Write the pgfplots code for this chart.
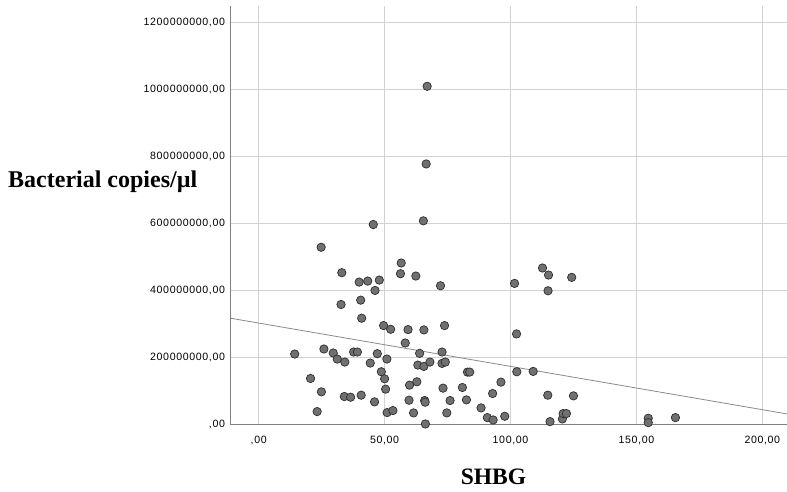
\documentclass[border=0pt]{standalone}
\usepackage{fontspec}
\setmainfont{Liberation Serif}
\newfontfamily\tickfont[LetterSpace=6]{Liberation Sans}
\usepackage{pgfplots}
\pgfplotsset{compat=1.18}
\definecolor{gridc}{HTML}{D2D2D2}
\definecolor{axc}{HTML}{808080}
\definecolor{ptfill}{HTML}{707070}
\definecolor{ptedge}{HTML}{2E2E2E}
\definecolor{regc}{HTML}{8A8A8A}
\begin{document}
\begin{tikzpicture}
\begin{axis}[
  name=ax,
  scale only axis,
  width=556.5pt, height=418.3pt,
  xmin=-11.2, xmax=209.8, ymin=0, ymax=1250,
  axis x line*=bottom, axis y line*=left,
  axis line style={axc, line width=1.3pt, -},
  grid=major,
  major grid style={gridc, line width=0.9pt},
  major tick length=0pt,
  xtick={0,50,100,150,200},
  xticklabels={{,00},{50,00},{100,00},{150,00},{200,00}},
  ytick={0,200,400,600,800,1000,1200},
  yticklabels={{,00},{200000000,00},{400000000,00},{600000000,00},{800000000,00},{1000000000,00},{1200000000,00}},
  /pgf/number format/assume math mode=true,
  xticklabel style={font=\tickfont\fontsize{10.6}{12}\selectfont, anchor=north, yshift=-8pt},
  yticklabel style={font=\tickfont\fontsize{10.6}{12}\selectfont, anchor=east, xshift=-2pt},
  xlabel={SHBG},
  ylabel={Bacterial copies/\textmu l},
  every axis x label/.style={at={(axis description cs:0.4726,-0.143)}, anchor=base, inner sep=0pt, font=\bfseries\fontsize{23.5}{26}\selectfont},
  every axis y label/.style={at={(axis description cs:-0.3998,0.565)}, anchor=base west, inner sep=0pt, font=\bfseries\fontsize{24}{26}\selectfont},
  clip=false,
]
\addplot[regc, line width=0.8pt] coordinates {(-11.2,317) (209.8,31)};
\addplot[only marks, mark=*, mark size=4.2pt, mark options={fill=ptfill, draw=ptedge, line width=0.7pt}] table {
x y
66.9 1010
66.5 778
65.4 608
45.5 597
24.8 529
33.0 453
39.9 425
43.3 428
47.9 431
46.2 400
40.5 371
32.7 358
40.9 317
49.6 295
52.4 284
56.6 482
56.3 450
62.4 443
72.2 414
59.3 283
65.6 282
73.8 295
58.2 243
14.3 210
25.9 225
29.6 213
31.2 195
34.2 186
37.7 216
39.2 216
47.1 211
44.3 183
50.9 195
48.7 157
50.0 136
20.6 137
24.9 97
34.0 83
36.5 81
40.7 87
46.0 67
50.4 105
23.2 38
51.0 35
63.9 212
72.8 216
63.2 177
65.6 173
68.0 186
72.8 182
74.1 186
82.9 156
83.8 156
59.9 117
62.8 127
73.2 108
80.9 110
59.7 72
65.9 71
66.1 66
76.0 71
82.5 73
88.3 49
53.3 41
61.5 34
74.7 34
66.2 1
90.8 20
93.1 13
97.7 24
96.2 126
92.9 92
102.5 157
109.0 158
102.4 270
114.8 87
125.0 85
115.7 8
120.6 16
120.9 32
122.2 32
112.7 467
115.1 446
124.3 439
101.6 421
114.9 399
154.7 18
154.7 5
165.5 20
};
\end{axis}
\pgfresetboundingbox
\path[use as bounding box] ([xshift=-230.5pt,yshift=-67.7pt]ax.south west) rectangle ([yshift=6pt]ax.north east);
\end{tikzpicture}
\end{document}
